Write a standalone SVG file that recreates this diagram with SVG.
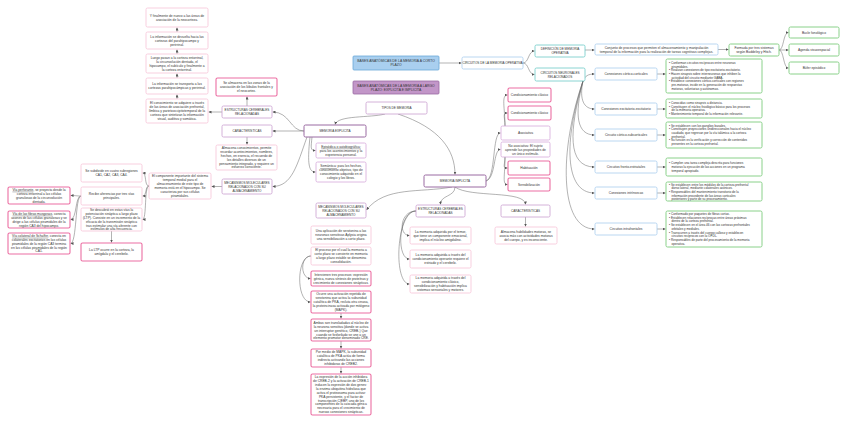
<svg xmlns="http://www.w3.org/2000/svg" width="848" height="424" viewBox="0 0 848 424">
<style>
text{font-family:"Liberation Sans",Arial,sans-serif;fill:#333;font-size:3.3px;text-anchor:middle}
.c{font-size:3.1px}
.h{font-size:3.4px}
.g{font-size:3.1px;text-anchor:start}
rect{fill:#fff;stroke-width:0.8}
.pl{stroke:#f6c3d7}
.pk{stroke:#ec6fa3;stroke-width:1.1}
.pu{stroke:#c9a0cf}
.pd{stroke:#9a6aa2;stroke-width:1}
.pv{stroke:#d6a8db}
.bl{stroke:#a8cdee}
.tl{stroke:#6cc9c6}
.gr{stroke:#8ad18a;stroke-width:1}
.bc{fill:#a9cfef;stroke:#6aa8d8}
.pc{fill:#c296c8;stroke:#9a6aa2}
#connectors path{fill:none;stroke:#666;stroke-width:0.5;marker-end:url(#ar)}
</style>
<defs>
<marker id="ar" markerUnits="userSpaceOnUse" markerWidth="3" markerHeight="3" refX="3" refY="1.5" orient="auto"><path d="M0,0 L3,1.5 L0,3 z" fill="#555"/></marker>
</defs>
<rect width="848" height="424" style="fill:#fff;stroke:none"/>
<g id="connectors">
<path d="M177,99 L177,94.5"/>
<path d="M177,78 L177,73.5"/>
<path d="M177,54 L177,49.5"/>
<path d="M177,32 L177,27.5"/>
<path d="M247,106 L247,96.5"/>
<path d="M222,112 L208.5,112"/>
<path d="M247,137 L247,144.5"/>
<path d="M304,131 C290,131 290,112 272.5,112"/>
<path d="M304,131 L272.5,131"/>
<path d="M307,137 C297,165 292,186.5 272.5,186.5"/>
<path d="M222,186.5 L211.5,186.5"/>
<path d="M149,186 C144,186 147,173 142.5,173"/>
<path d="M149,186 C145,186 147,196 142.5,196"/>
<path d="M149,186 C144,186 147,219.5 142.5,219.5"/>
<path d="M111.5,231 L111.5,242.5"/>
<path d="M81,196 C76,196 77,195.5 70.5,195.5"/>
<path d="M81,196 C75,196 77,219.5 70.5,219.5"/>
<path d="M81,196 C75,196 77,243.5 70.5,243.5"/>
<path d="M439,63 L461.5,63"/>
<path d="M523,63 C529,63 528,51 534.5,51"/>
<path d="M523,63 C529,63 528,74.5 534.5,74.5"/>
<path d="M585,50 L594.5,50"/>
<path d="M718,49.5 L728.5,49.5"/>
<path d="M779,50 C784,50 783,32.5 788.5,32.5"/>
<path d="M779,50 L788.5,50"/>
<path d="M779,50 C784,50 783,68 788.5,68"/>
<path d="M583,81 C585,76 588,74 594.5,74"/>
<path d="M583,81 C579,100 584,109 594.5,109"/>
<path d="M583,81 C574,115 577,135 594.5,135"/>
<path d="M583,81 C569,130 567,167 594.5,167"/>
<path d="M583,81 C564,140 564,193 594.5,193"/>
<path d="M583,81 C559,150 559,229 594.5,229"/>
<path d="M657,74 L665.5,74"/>
<path d="M657,109 L665.5,109"/>
<path d="M657,135 L665.5,135"/>
<path d="M657,167 L665.5,167"/>
<path d="M657,193 L665.5,193"/>
<path d="M657,229 L665.5,229"/>
<path d="M385,114 C370,118 338,115 335,124.5"/>
<path d="M398,114 C440,128 455,150 455,174.5"/>
<path d="M312,137 C311,148 310,150.5 315.5,150.5"/>
<path d="M310,137 C307,165 309,172 315.5,172"/>
<path d="M486,181 C496,178 492,133 500.5,133"/>
<path d="M486,181 C496,178 493,149.5 500.5,149.5"/>
<path d="M505,126 C505,108 501,95 507.5,95"/>
<path d="M505,126 C505,117 502,113 507.5,113"/>
<path d="M505,157 C505,165 502,168 507.5,168"/>
<path d="M505,157 C505,176 502,184.5 507.5,184.5"/>
<path d="M455,187 C455,197 440,195 440.5,204.5"/>
<path d="M455,187 C470,198 525,190 525.5,204.5"/>
<path d="M452,187 C420,193 385,186 366.5,210"/>
<path d="M525.5,217 L525.5,226.5"/>
<path d="M416,211 C400,211 398,235.5 409.5,235.5"/>
<path d="M416,211 C398,211 396,259 409.5,259"/>
<path d="M416,211 C396,211 393,284 409.5,284"/>
<path d="M311,256 C300,256 300,278.5 310.5,278.5"/>
<path d="M311,256 C296,256 296,302 310.5,302"/>
<path d="M341,313 L341,318.5"/>
<path d="M341,341 L341,348.5"/>
<path d="M341,367 L341,373.5"/>
</g>

<g id="a1"><rect class="pl" x="146" y="8" width="62" height="19" rx="1.5"/><text x="177" y="16.7">Y finalmente de nuevo a las áreas de<tspan x="177" dy="3.9">asociación de la neocorteza.</tspan></text></g>
<g id="a2"><rect class="pl" x="146" y="32" width="62" height="17" rx="1.5"/><text x="177" y="37.75">La información se devuelta hacia las<tspan x="177" dy="3.9">cortezas del parahipocampo y</tspan><tspan x="177" dy="3.9">perirrinal.</tspan></text></g>
<g id="a3"><rect class="pl" x="146" y="54" width="62" height="19" rx="1.5"/><text x="177" y="58.8">Luego pasan a la corteza entorrinal,<tspan x="177" dy="3.9">la circunvolución dentada, el</tspan><tspan x="177" dy="3.9">hipocampo, el subículo y finalmente a</tspan><tspan x="177" dy="3.9">la corteza entorrinal.</tspan></text></g>
<g id="a4"><rect class="pl" x="146" y="78" width="62" height="16" rx="1.5"/><text x="177" y="85.2">La información se transporta a las<tspan x="177" dy="3.9">cortezas parahipocámpicas y perirrinal.</tspan></text></g>
<g id="a5"><rect class="pl" x="146" y="99" width="62" height="24" rx="1.5"/><text x="177" y="104.35">El conocimiento se adquiere a través<tspan x="177" dy="3.9">de las áreas de asociación prefrontal,</tspan><tspan x="177" dy="3.9">límbica y parietooccipitotemporal de la</tspan><tspan x="177" dy="3.9">corteza que sintetizan la información</tspan><tspan x="177" dy="3.9">visual, auditiva y somática.</tspan></text></g>
<g id="se-almacena"><rect class="pk" x="216" y="78" width="61" height="18" rx="1.5"/><text x="246.5" y="84.25">Se almacena en las zonas de la<tspan x="246.5" dy="3.9">asociación de los lóbulos frontales y</tspan><tspan x="246.5" dy="3.9">el neocortex.</tspan></text></g>
<g id="estructuras-exp"><rect class="pu" x="222" y="106" width="50" height="12" rx="1.5"/><text class="c" x="247" y="111.2">ESTRUCTURAS CEREBRALES<tspan x="247" dy="3.9">RELACIONADAS</tspan></text></g>
<g id="caract-exp"><rect class="pu" x="222" y="125" width="50" height="12" rx="1.5"/><text class="c" x="247" y="132.15">CARACTERÍSTICAS</text></g>
<g id="almacena-con"><rect class="pl" x="216" y="145" width="61" height="25" rx="1.5"/><text x="246.5" y="148.9">Almacena conocimientos, permite<tspan x="246.5" dy="3.9">recordar acontecimientos, nombres,</tspan><tspan x="246.5" dy="3.9">hechos, en esencia, el recuerdo de</tspan><tspan x="246.5" dy="3.9">los detalles diversos de un</tspan><tspan x="246.5" dy="3.9">pensamiento integrado, y requiere un</tspan><tspan x="246.5" dy="3.9">esfuerzo consciente.</tspan></text></g>
<g id="mecanismos-exp"><rect class="pu" x="222" y="179" width="50" height="15" rx="1.5"/><text class="c" x="247" y="183.75">MECANISMOS MOLECULARES<tspan x="247" dy="3.9">RELACIONADOS CON SU</tspan><tspan x="247" dy="3.9">ALMACENAMIENTO</tspan></text></g>
<g id="componente"><rect class="pl" x="149" y="173" width="62" height="26" rx="1.5"/><text x="180" y="177.4">El componente importante del sistema<tspan x="180" dy="3.9">temporal medial para el</tspan><tspan x="180" dy="3.9">almacenamiento de este tipo de</tspan><tspan x="180" dy="3.9">memoria está en el hipocampo. Se</tspan><tspan x="180" dy="3.9">caracteriza por sus células</tspan><tspan x="180" dy="3.9">piramidales.</tspan></text></g>
<g id="subdivide"><rect class="pl" x="81" y="164" width="61" height="18" rx="1.5"/><text x="111.5" y="172.2">Se subdivide en cuatro subregiones<tspan x="111.5" dy="3.9">CA1, CA2, CA3, CA4.</tspan></text></g>
<g id="recibe"><rect class="pl" x="81" y="187" width="61" height="18" rx="1.5"/><text x="111.5" y="195.2">Recibe aferencias por tres vías<tspan x="111.5" dy="3.9">principales.</tspan></text></g>
<g id="descubrio"><rect class="pl" x="81" y="208" width="61" height="23" rx="1.5"/><text x="111.5" y="210.9">Se descubrió en estas vías la<tspan x="111.5" dy="3.9">potenciación sináptica a largo plazo</tspan><tspan x="111.5" dy="3.9">(LTP). Consiste en un incremento de la</tspan><tspan x="111.5" dy="3.9">eficacia de la transmisión sináptica</tspan><tspan x="111.5" dy="3.9">tras estimular una vía aferente con</tspan><tspan x="111.5" dy="3.9">estímulos de alta frecuencia.</tspan></text></g>
<g id="ltp"><rect class="pk" x="81" y="243" width="61" height="18" rx="1.5"/><text x="111.5" y="251.2">La LTP ocurre en la corteza, la<tspan x="111.5" dy="3.9">amígdala y el cerebelo.</tspan></text></g>
<g id="via1"><rect class="pk" x="8" y="187" width="62" height="17" rx="1.5"/><text x="39" y="190.8"><tspan text-decoration="underline">Vía perforante</tspan>, se proyecta desde la<tspan x="39" dy="3.9">corteza entorrinal a las células</tspan><tspan x="39" dy="3.9">granulosas de la circunvolución</tspan><tspan x="39" dy="3.9">dentada.</tspan></text></g>
<g id="via2"><rect class="pk" x="8" y="211" width="62" height="17" rx="1.5"/><text x="39" y="214.8"><tspan text-decoration="underline">Vía de las fibras musgosas</tspan>, conecta<tspan x="39" dy="3.9">axones de las células granulosas y se</tspan><tspan x="39" dy="3.9">dirige a las células piramidales de la</tspan><tspan x="39" dy="3.9">región CA3 del hipocampo.</tspan></text></g>
<g id="via3"><rect class="pk" x="8" y="233" width="62" height="21" rx="1.5"/><text x="39" y="236.85"><tspan text-decoration="underline">Vía colateral de Schaffer</tspan>, conecta en<tspan x="39" dy="3.9">colaterales excitatorios en las células</tspan><tspan x="39" dy="3.9">piramidales de la región CA3 termina</tspan><tspan x="39" dy="3.9">en las células piramidales de la región</tspan><tspan x="39" dy="3.9">CA1.</tspan></text></g>

<g id="bases-corto"><rect class="bc" x="353" y="56" width="86" height="14" rx="1"/><text class="h" x="396" y="62.2">BASES ANATÓMICAS DE LA MEMORIA A CORTO<tspan x="396" dy="3.9">PLAZO</tspan></text></g>
<g id="bases-largo"><rect class="pc" x="353" y="81" width="86" height="13" rx="1"/><text class="h" x="396" y="86.7">BASES ANATÓMICAS DE LA MEMORIA A LARGO<tspan x="396" dy="3.9">PLAZO: EXPLÍCITA E IMPLÍCITA</tspan></text></g>
<g id="tipos"><rect class="pu" x="366" y="102" width="61" height="12" rx="1.5"/><text class="c" x="396.5" y="109.15">TIPOS DE MEMORIA</text></g>
<g id="mem-exp"><rect class="pd" x="304" y="125" width="62" height="12" rx="1.5"/><text class="c" x="335" y="132.15">MEMORIA EXPLÍCITA</text></g>
<g id="episodica"><rect class="pv" x="316" y="143" width="50" height="15" rx="1.5"/><text x="341" y="147.75"><tspan text-decoration="underline">Episódica o autobiográfica:</tspan><tspan x="341" dy="3.9">para los acontecimientos y la</tspan><tspan x="341" dy="3.9">experiencia personal.</tspan></text></g>
<g id="semantica"><rect class="pv" x="316" y="162" width="50" height="20" rx="1.5"/><text x="341" y="167.3"><tspan text-decoration="underline">Semántica:</tspan> para los hechos,<tspan x="341" dy="3.9">conocimiento objetivo, tipo de</tspan><tspan x="341" dy="3.9">conocimiento adquirido en el</tspan><tspan x="341" dy="3.9">colegio y los libros.</tspan></text></g>
<g id="mem-imp"><rect class="pd" x="424" y="175" width="62" height="12" rx="1.5"/><text class="c" x="455" y="182.15">MEMORIA IMPLÍCITA</text></g>
<g id="cond1"><rect class="pk" x="508" y="88" width="43" height="14" rx="1.5"/><text x="529.5" y="96.15">Condicionamiento clásico</text></g>
<g id="cond2"><rect class="pk" x="508" y="106" width="43" height="14" rx="1.5"/><text x="529.5" y="114.15">Condicionamiento clásico</text></g>
<g id="asociativa"><rect class="pv" x="501" y="126" width="49" height="14" rx="1.5"/><text x="525.5" y="134.15">Asociativa</text></g>
<g id="no-asociativa"><rect class="pv" x="501" y="142" width="49" height="15" rx="1.5"/><text x="525.5" y="146.75">No asociativa: El sujeto<tspan x="525.5" dy="3.9">aprende las propiedades de</tspan><tspan x="525.5" dy="3.9">un único estímulo.</tspan></text></g>
<g id="habituacion"><rect class="pk" x="508" y="161" width="42" height="14" rx="1.5"/><text x="529" y="169.15">Habituación</text></g>
<g id="sensibilizacion"><rect class="pk" x="508" y="178" width="42" height="13" rx="1.5"/><text x="529" y="185.65">Sensibilización</text></g>
<g id="mecanismos-imp"><rect class="pu" x="316" y="203" width="50" height="15" rx="1.5"/><text class="c" x="341" y="207.75">MECANISMOS MOLECULARES<tspan x="341" dy="3.9">RELACIONADOS CON SU</tspan><tspan x="341" dy="3.9">ALMACENAMIENTO</tspan></text></g>
<g id="estructuras-imp"><rect class="pu" x="416" y="205" width="49" height="12" rx="1.5"/><text class="c" x="440.5" y="210.2">ESTRUCTURAS CEREBRALES<tspan x="440.5" dy="3.9">RELACIONADAS</tspan></text></g>
<g id="caract-imp"><rect class="pu" x="501" y="205" width="49" height="12" rx="1.5"/><text class="c" x="525.5" y="212.15">CARACTERÍSTICAS</text></g>
<g id="habilidades"><rect class="pl" x="495" y="227" width="62" height="17" rx="1.5"/><text x="526" y="232.75">Almacena habilidades motoras, se<tspan x="526" dy="3.9">asocia más con actividades motoras</tspan><tspan x="526" dy="3.9">del cuerpo, y es inconsciente.</tspan></text></g>
<g id="aplicacion"><rect class="pl" x="311" y="226" width="60" height="18" rx="1.5"/><text x="341" y="232.25">Una aplicación de serotonina a las<tspan x="341" dy="3.9">neuronas sensitivas Aplysia origina</tspan><tspan x="341" dy="3.9">una sensibilización a corto plazo.</tspan></text></g>
<g id="proceso"><rect class="pl" x="311" y="247" width="60" height="18" rx="1.5"/><text x="341" y="251.3">El proceso por el cual la memoria a<tspan x="341" dy="3.9">corto plazo se convierte en memoria</tspan><tspan x="341" dy="3.9">a largo plazo estable se denomina</tspan><tspan x="341" dy="3.9">consolidación.</tspan></text></g>
<g id="intervienen"><rect class="pk" x="311" y="271" width="60" height="15" rx="1.5"/><text x="341" y="275.75">Intervienen tres procesos: expresión<tspan x="341" dy="3.9">génica, nueva síntesis de proteínas y</tspan><tspan x="341" dy="3.9">crecimiento de conexiones sinápticas.</tspan></text></g>
<g id="ocurre"><rect class="pk" x="311" y="291" width="60" height="22" rx="1.5"/><text x="341" y="295.35">Ocurre una activación repetida de<tspan x="341" dy="3.9">serotonina que activa la subunidad</tspan><tspan x="341" dy="3.9">catalítica de PKA, recluta otra cinasa,</tspan><tspan x="341" dy="3.9">la proteincinasa activada por mitógeno</tspan><tspan x="341" dy="3.9">(MAPK).</tspan></text></g>
<g id="ambas"><rect class="pk" x="311" y="319" width="60" height="22" rx="1.5"/><text x="341" y="323.85">Ambas son transladadas al núcleo de<tspan x="341" dy="3.9">la neurona sensitiva (donde se activa</tspan><tspan x="341" dy="3.9">un interruptor genético, CREB-) Que</tspan><tspan x="341" dy="3.9">cuando se fosforilado se une a un</tspan><tspan x="341" dy="3.9">elemento promotor denominado CRE.</tspan></text></g>
<g id="por-medio"><rect class="pk" x="311" y="349" width="60" height="18" rx="1.5"/><text x="341" y="353.3">Por medio de MAPK, la subunidad<tspan x="341" dy="3.9">catalítica de PKA actúa de forma</tspan><tspan x="341" dy="3.9">indirecta activando las acciones</tspan><tspan x="341" dy="3.9">inhibidoras de CREB2.</tspan></text></g>
<g id="expresion"><rect class="pk" x="311" y="374" width="60" height="41" rx="1.5"/><text x="341" y="378.1">La expresión de la acción inhibidora<tspan x="341" dy="3.9">de CREB-2 y la activación de CREB-1</tspan><tspan x="341" dy="3.9">inducen la expresión de dos genes:</tspan><tspan x="341" dy="3.9">la enzima ubiquitina hidrolasa que</tspan><tspan x="341" dy="3.9">activa el proteosoma para activar</tspan><tspan x="341" dy="3.9">PKA persistente, y el factor de</tspan><tspan x="341" dy="3.9">transcripción C/EBP, uno de los</tspan><tspan x="341" dy="3.9">componentes de la cascada génica</tspan><tspan x="341" dy="3.9">necesaria para el crecimiento de</tspan><tspan x="341" dy="3.9">nuevas conexiones sinápticas.</tspan></text></g>
<g id="temor"><rect class="pl" x="410" y="227" width="61" height="17" rx="1.5"/><text x="440.5" y="232.75">La memoria adquirida por el temor,<tspan x="440.5" dy="3.9">que tiene un componente emocional,</tspan><tspan x="440.5" dy="3.9">implica el núcleo amigdalino.</tspan></text></g>
<g id="operante"><rect class="pl" x="410" y="250" width="61" height="18" rx="1.5"/><text x="440.5" y="256.25">La memoria adquirida a través del<tspan x="440.5" dy="3.9">condicionamiento operante requiere el</tspan><tspan x="440.5" dy="3.9">estriado y el cerebelo.</tspan></text></g>
<g id="clasico"><rect class="pl" x="410" y="275" width="61" height="18" rx="1.5"/><text x="440.5" y="279.3">La memoria adquirida a través del<tspan x="440.5" dy="3.9">condicionamiento clásico,</tspan><tspan x="440.5" dy="3.9">sensibilización y habituación implica</tspan><tspan x="440.5" dy="3.9">sistemas sensoriales y motores.</tspan></text></g>

<g id="circuitos-op"><rect class="bl" x="462" y="57" width="61" height="12" rx="1.5"/><text class="c" x="492.5" y="64.15">CIRCUITOS DE LA MEMORIA OPERATIVA</text></g>
<g id="definicion"><rect class="tl" x="535" y="45" width="50" height="12" rx="1.5"/><text class="c" x="560" y="50.2">DEFINICIÓN DE MEMORIA<tspan x="560" dy="3.9">OPERATIVA</tspan></text></g>
<g id="circuitos-neu"><rect class="tl" x="535" y="68" width="50" height="13" rx="1.5"/><text class="c" x="560" y="73.7">CIRCUITOS NEURONALES<tspan x="560" dy="3.9">RELACIONADOS</tspan></text></g>
<g id="conjunto"><rect class="bl" x="595" y="44" width="123" height="11" rx="1.5"/><text x="656.5" y="48.7">Conjunto de procesos que permiten el almacenamiento y manipulación<tspan x="656.5" dy="3.9">temporal de la información para la realización de tareas cognitivas complejas.</tspan></text></g>
<g id="formada"><rect class="gr" x="729" y="44" width="50" height="12" rx="1.5"/><text x="754" y="49.2">Formada por tres sistemas<tspan x="754" dy="3.9">según Baddeley y Hitch.</tspan></text></g>
<g id="bucle"><rect class="gr" x="789" y="27" width="50" height="11" rx="1.5"/><text x="814" y="33.65">Bucle fonológico</text></g>
<g id="agenda"><rect class="gr" x="789" y="44" width="50" height="12" rx="1.5"/><text x="814" y="51.15">Agenda visuoespacial</text></g>
<g id="bufer"><rect class="gr" x="789" y="62" width="50" height="12" rx="1.5"/><text x="814" y="69.15">Búfer episódico</text></g>

<g id="b1"><rect class="bl" x="595" y="68" width="62" height="12" rx="1.5"/><text x="626" y="75.15">Conexiones córtico-corticales</text></g>
<g id="b2"><rect class="bl" x="595" y="103" width="62" height="12" rx="1.5"/><text x="626" y="110.15">Conexiones excitatorio-excitatorio</text></g>
<g id="b3"><rect class="bl" x="595" y="129" width="62" height="12" rx="1.5"/><text x="626" y="136.15">Circuito córtico-subcorticales</text></g>
<g id="b4"><rect class="bl" x="595" y="161" width="62" height="12" rx="1.5"/><text x="626" y="168.15">Circuitos fronto-estriatales</text></g>
<g id="b5"><rect class="bl" x="595" y="187" width="62" height="12" rx="1.5"/><text x="626" y="194.15">Conexiones intrínsecas</text></g>
<g id="b6"><rect class="bl" x="595" y="223" width="62" height="12" rx="1.5"/><text x="626" y="230.15">Circuitos intrafrontales</text></g>

<g id="g1"><rect class="gr" x="666" y="59" width="96" height="34" rx="1.5"/><text class="g" x="669" y="63.9">• Conforman circuitos recíprocos entre neuronas<tspan x="671.5" dy="3.7">piramidales.</tspan><tspan x="669" dy="3.7">• Realizan conexiones de tipo excitatorio-excitatorio.</tspan><tspan x="669" dy="3.7">• Hacen sinapsis sobre interneuronas que inhiben la</tspan><tspan x="671.5" dy="3.7">actividad del circuito mediante GABA.</tspan><tspan x="669" dy="3.7">• Establece conexiones córtico-corticales con regiones</tspan><tspan x="671.5" dy="3.7">pre-motoras, incide en la generación de respuestas</tspan><tspan x="671.5" dy="3.7">motoras, voluntarias y autónomas.</tspan></text></g>
<g id="g2"><rect class="gr" x="666" y="99" width="96" height="19" rx="1.5"/><text class="g" x="669" y="103.8">• Conocidas como sinapsis a distancia.<tspan x="669" dy="3.7">• Constituyen el núcleo fisiológico básico para los procesos</tspan><tspan x="671.5" dy="3.7">de la memoria operativa.</tspan><tspan x="669" dy="3.7">• Mantenimiento temporal de la información relevante.</tspan></text></g>
<g id="g3"><rect class="gr" x="666" y="122" width="96" height="26" rx="1.5"/><text class="g" x="669" y="126.6">• Se establecen con los ganglios basales.<tspan x="669" dy="3.7">• Constituyen proyecciones unidireccionales hacia el núcleo</tspan><tspan x="671.5" dy="3.7">caudado, que regresan por la vía talámica a la corteza</tspan><tspan x="671.5" dy="3.7">prefrontal.</tspan><tspan x="669" dy="3.7">• Su función es la verificación y corrección de contenidos</tspan><tspan x="671.5" dy="3.7">presentes en la corteza prefrontal.</tspan></text></g>
<g id="g4"><rect class="gr" x="666" y="158" width="96" height="18" rx="1.5"/><text class="g" x="669" y="164.15">• Cumplen una tarea compleja descrita para funciones<tspan x="671.5" dy="3.7">motoras la ejecución de las acciones en un programa</tspan><tspan x="671.5" dy="3.7">temporal apropiado.</tspan></text></g>
<g id="g5"><rect class="gr" x="666" y="182" width="96" height="19" rx="1.5"/><text class="g" x="669" y="185.5">• Se establecen entre los módulos de la corteza prefrontal<tspan x="671.5" dy="3.7">dorso lateral, mediante colaterales axónicos.</tspan><tspan x="669" dy="3.7">• Responsables del mantenimiento transitorio de la</tspan><tspan x="671.5" dy="3.7">información procedente de las áreas corticales</tspan><tspan x="671.5" dy="3.7">posteriores y parte de su procesamiento.</tspan></text></g>
<g id="g6"><rect class="gr" x="666" y="211" width="96" height="36" rx="1.5"/><text class="g" x="669" y="215.05">• Conformado por paquetes de fibras cortas.<tspan x="669" dy="3.7">• Establecen relaciones recíprocas entre áreas próximas</tspan><tspan x="671.5" dy="3.7">dentro de la corteza prefrontal.</tspan><tspan x="669" dy="3.7">• Se establecen en el área 46 con las cortezas prefrontales</tspan><tspan x="671.5" dy="3.7">orbitales y mediales.</tspan><tspan x="669" dy="3.7">• Transcurren a través del cuerpo calloso y establecen</tspan><tspan x="671.5" dy="3.7">circuitos recíprocos con la OFDL.</tspan><tspan x="669" dy="3.7">• Responsables de parte del procesamiento de la memoria</tspan><tspan x="671.5" dy="3.7">operativa.</tspan></text></g>
</svg>
